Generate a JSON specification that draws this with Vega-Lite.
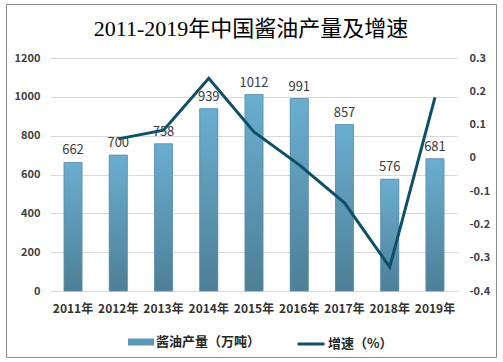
{
  "$schema": "https://vega.github.io/schema/vega-lite/v6.json",
  "autosize": "none",
  "width": 490,
  "height": 353,
  "padding": {"left": 6, "top": 4, "right": 7, "bottom": 5},
  "background": "#ffffff",
  "title": {
    "text": "2011-2019年中国酱油产量及增速",
    "font": "Liberation Serif, Noto Sans CJK SC",
    "fontSize": 22,
    "fontWeight": "normal",
    "color": "#000000",
    "anchor": "middle",
    "frame": "group",
    "offset": -37
  },
  "data": {
    "values": [
      {"year": "2011年", "prod": 662, "growth": null},
      {"year": "2012年", "prod": 700, "growth": 0.057},
      {"year": "2013年", "prod": 758, "growth": 0.083},
      {"year": "2014年", "prod": 939, "growth": 0.239},
      {"year": "2015年", "prod": 1012, "growth": 0.078},
      {"year": "2016年", "prod": 991, "growth": -0.021},
      {"year": "2017年", "prod": 857, "growth": -0.135},
      {"year": "2018年", "prod": 576, "growth": -0.328},
      {"year": "2019年", "prod": 681, "growth": 0.182}
    ]
  },
  "encoding": {
    "x": {
      "field": "year",
      "type": "nominal",
      "sort": null,
      "scale": {"range": [44.4, 451.6], "paddingInner": 0.6, "paddingOuter": 0.3},
      "axis": {
        "title": null,
        "labelAngle": 0,
        "domain": false,
        "ticks": false,
        "tickSize": 0,
        "labelPadding": 0,
        "offset": -54,
        "labelFont": "Noto Sans CJK SC",
        "labelFontSize": 12,
        "labelFontWeight": "bold",
        "labelColor": "#333333"
      }
    }
  },
  "layer": [
    {
      "layer": [
        {
          "mark": {"type": "bar"},
          "encoding": {
            "y": {
              "field": "prod",
              "type": "quantitative",
              "scale": {"domain": [0, 1200], "range": [287, 54], "nice": false, "zero": true},
              "axis": {
                "title": null,
                "values": [0, 200, 400, 600, 800, 1000, 1200],
                "format": "d",
                "domain": false,
                "ticks": false,
                "tickSize": 0,
                "labelPadding": 0,
                "offset": -34,
                "grid": true,
                "gridColor": "#D9D9D9",
                "gridWidth": 1,
                "labelFont": "Noto Sans CJK SC",
                "labelFontSize": 11,
                "labelFontWeight": "bold",
                "labelColor": "#404040"
              }
            },
            "fill": {
              "datum": "酱油产量（万吨）",
              "scale": {"range": ["#5C98B6"]},
              "legend": {
                "orient": "none",
                "legendX": 122,
                "legendY": 325,
                "title": null,
                "padding": 0,
                "symbolType": "M-1,-0.27H1V0.27H-1Z",
                "symbolSize": 676,
                "symbolStrokeWidth": 0,
                "labelFont": "Noto Sans CJK SC",
                "labelFontSize": 13,
                "labelFontWeight": "bold",
                "labelColor": "#262626",
                "labelOffset": 2,
                "labelLimit": 300
              }
            }
          }
        },
        {
          "mark": {
            "type": "bar",
            "fill": {
              "gradient": "linear",
              "x1": 0, "y1": 0, "x2": 0, "y2": 1,
              "stops": [
                {"offset": 0, "color": "#6AAED0"},
                {"offset": 1, "color": "#4E7F96"}
              ]
            },
            "stroke": "#5A90AC",
            "strokeWidth": 0.8
          },
          "encoding": {
            "y": {"field": "prod", "type": "quantitative"}
          }
        },
        {
          "mark": {
            "type": "text",
            "baseline": "bottom",
            "dy": -5,
            "font": "Noto Sans CJK SC",
            "fontSize": 13,
            "color": "#3A3A3A"
          },
          "encoding": {
            "y": {"field": "prod", "type": "quantitative"},
            "text": {"field": "prod", "type": "quantitative", "format": "d"}
          }
        }
      ]
    },
    {
      "transform": [{"filter": "datum.growth != null"}],
      "mark": {"type": "line", "strokeWidth": 3, "strokeJoin": "miter"},
      "encoding": {
        "y": {
          "field": "growth",
          "type": "quantitative",
          "scale": {"domain": [-0.4, 0.3], "range": [287, 54], "nice": false, "zero": false},
          "axis": {
            "orient": "right",
            "title": null,
            "values": [-0.4, -0.3, -0.2, -0.1, 0, 0.1, 0.2, 0.3],
            "labelExpr": "datum.value == 0 ? '0' : (datum.value < 0 ? '-' + format(-datum.value, '.1f') : format(datum.value, '.1f'))",
            "domain": false,
            "ticks": false,
            "tickSize": 0,
            "labelPadding": 0,
            "offset": -27,
            "grid": false,
            "labelFont": "Noto Sans CJK SC",
            "labelFontSize": 11,
            "labelFontWeight": "bold",
            "labelColor": "#404040"
          }
        },
        "stroke": {
          "datum": "增速（%）",
          "scale": {"range": ["#0D4F66"]},
          "legend": {
            "orient": "none",
            "legendX": 290,
            "legendY": 325,
            "title": null,
            "padding": 0,
            "symbolType": "stroke",
            "symbolSize": 729,
            "symbolStrokeWidth": 3,
            "labelFont": "Noto Sans CJK SC",
            "labelFontSize": 13,
            "labelFontWeight": "bold",
            "labelColor": "#262626",
            "labelOffset": 2,
            "labelLimit": 300
          }
        }
      }
    }
  ],
  "resolve": {"scale": {"y": "independent"}},
  "config": {
    "view": {"stroke": "#8C8C8C", "strokeWidth": 1},
    "legend": {"symbolOpacity": 1}
  }
}
